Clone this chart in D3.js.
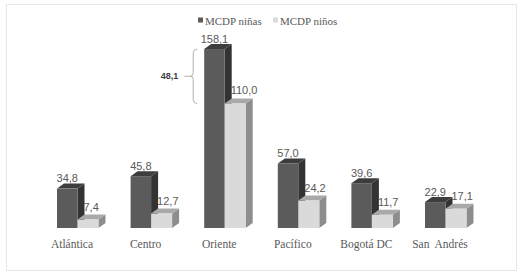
<!DOCTYPE html>
<html>
<head>
<meta charset="utf-8">
<script src="https://cdn.jsdelivr.net/npm/d3@7"></script>
<style>
  body { margin: 0; background: #fff; }
  svg { display: block; }
</style>
</head>
<body>
<div id="chart"></div>
<script>
// Chart data
const categories = ["Atlántica", "Centro", "Oriente", "Pacífico", "Bogotá DC", "San  Andrés"];
const ninas = [34.8, 45.8, 158.1, 57.0, 39.6, 22.9];
const ninos = [7.4, 12.7, 110.0, 24.2, 11.7, 17.1];
const seriesNames = ["MCDP niñas", "MCDP niños"];
const gapLabel = "48,1";

const width = 524, height = 275;
const depthX = 7, depthY = 5;
const fmt = v => d3.format(".1f")(v).replace(".", ",");

const svg = d3.select("#chart")
  .append("svg")
  .attr("width", width)
  .attr("height", height);

// Outer frame
svg.append("rect")
  .attr("x", 6.5).attr("y", 4.5)
  .attr("width", 510).attr("height", 266)
  .attr("fill", "none")
  .attr("stroke", "#cfcfcf")
  .attr("stroke-dasharray", "1,1");

const x = d3.scaleBand()
  .domain(categories)
  .range([35.2, 476.8]);

const y = d3.scaleLinear()
  .domain([0, 160])
  .range([228, 228 - 160 * 1.132]);

// Colours: front, top, side
const styles = [
  { front: "#5b5b5b", top: "#3d3d3d", side: "#333333", dx: -15, w: 20.5 },
  { front: "#dadada", top: "#a9a9a9", side: "#8d8d8d", dx: 5.5, w: 21 }
];

const labelFont = "Liberation Sans, Arial, sans-serif";

// Labels of the light series sit behind the bars (the dark side hides part of them)
const lightLabels = svg.append("g")
  .attr("font-family", labelFont)
  .attr("font-size", 11)
  .attr("fill", "#595959");
categories.forEach((c, i) => {
  const cx = x(c) + x.bandwidth() / 2;
  lightLabels.append("text")
    .attr("x", cx + styles[1].dx + 6)
    .attr("y", y(ninos[i]) - 9)
    .text(fmt(ninos[i]));
});

function drawBar(g, x0, w, v, s) {
  const yt = y(v), yb = y(0);
  // side
  g.append("path")
    .attr("d", `M${x0 + w},${yb} L${x0 + w},${yt} L${x0 + w + depthX},${yt - depthY} L${x0 + w + depthX},${yb - depthY} Z`)
    .attr("fill", s.side);
  // top
  g.append("path")
    .attr("d", `M${x0},${yt} L${x0 + depthX},${yt - depthY} L${x0 + w + depthX},${yt - depthY} L${x0 + w},${yt} Z`)
    .attr("fill", s.top);
  // front
  g.append("rect")
    .attr("x", x0).attr("y", yt)
    .attr("width", w).attr("height", yb - yt)
    .attr("fill", s.front);
}

const bars = svg.append("g");
categories.forEach((c, i) => {
  const cx = x(c) + x.bandwidth() / 2;
  drawBar(bars, cx + styles[0].dx, styles[0].w, ninas[i], styles[0]);
  drawBar(bars, cx + styles[1].dx, styles[1].w, ninos[i], styles[1]);
});

// Labels of the dark series
const darkLabels = svg.append("g")
  .attr("font-family", labelFont)
  .attr("font-size", 11)
  .attr("fill", "#595959")
  .attr("text-anchor", "middle");
categories.forEach((c, i) => {
  const cx = x(c) + x.bandwidth() / 2;
  darkLabels.append("text")
    .attr("x", cx + styles[0].dx + styles[0].w / 2)
    .attr("y", y(ninas[i]) - 6.5)
    .text(fmt(ninas[i]));
});

// Category labels
svg.append("g")
  .attr("font-family", "Liberation Serif, Times New Roman, serif")
  .attr("font-size", 11.5)
  .attr("fill", "#595959")
  .attr("text-anchor", "middle")
  .selectAll("text")
  .data(categories)
  .join("text")
  .attr("x", d => x(d) + x.bandwidth() / 2)
  .attr("y", 248)
  .style("white-space", "pre")
  .text(d => d);

// Legend
const legend = svg.append("g")
  .attr("font-family", "Liberation Serif, Times New Roman, serif")
  .attr("font-size", 11)
  .attr("fill", "#595959");
const legendX = [198, 273];
seriesNames.forEach((n, i) => {
  legend.append("rect")
    .attr("x", legendX[i]).attr("y", 17.5)
    .attr("width", 5).attr("height", 5)
    .attr("fill", styles[i].front);
  legend.append("text")
    .attr("x", legendX[i] + 7)
    .attr("y", 24.5)
    .text(n);
});

// Brace showing the gap in Oriente
const oriente = categories.indexOf("Oriente");
const bx = x(categories[oriente]) + x.bandwidth() / 2 + styles[0].dx - 11;
const yTop = y(ninas[oriente]), yBot = y(ninos[oriente]);
const yMid = (yTop + yBot) / 2;
svg.append("path")
  .attr("d", `M${bx + 4},${yTop} Q${bx},${yTop} ${bx},${yTop + 4} L${bx},${yMid - 3} Q${bx},${yMid} ${bx - 3},${yMid} Q${bx},${yMid} ${bx},${yMid + 3} L${bx},${yBot - 4} Q${bx},${yBot} ${bx + 4},${yBot}`)
  .attr("fill", "none")
  .attr("stroke", "#a0a0a0")
  .attr("stroke-width", 0.8);
svg.append("line")
  .attr("x1", bx - 9).attr("x2", bx - 3)
  .attr("y1", yMid).attr("y2", yMid)
  .attr("stroke", "#a0a0a0")
  .attr("stroke-width", 0.8);
svg.append("text")
  .attr("x", bx - 15)
  .attr("y", yMid + 3)
  .attr("text-anchor", "end")
  .attr("font-family", labelFont)
  .attr("font-size", 9)
  .attr("font-weight", "bold")
  .attr("fill", "#404040")
  .text(gapLabel);
</script>
</body>
</html>
